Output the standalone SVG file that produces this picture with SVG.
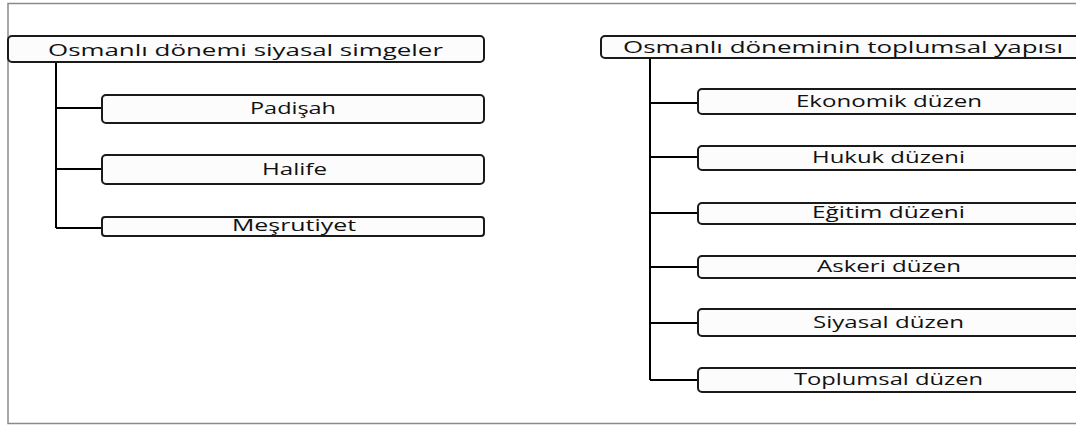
<svg xmlns="http://www.w3.org/2000/svg" width="1076" height="425" viewBox="0 0 1076 425">
<style>
.frame{fill:#ffffff;stroke:#8a8a8a;stroke-width:1.5}
.box{fill:#fcfcfc;stroke:#1a1a1a;stroke-width:2}
.conn{fill:none;stroke:#000000;stroke-width:2}
.t{font-family:"Open Sans","Noto Sans","Liberation Sans",sans-serif;font-size:16px;fill:#111111;text-anchor:start}
</style>
<rect class="frame" x="8" y="3.5" width="1080" height="420"/>
<g id="connectors">
<path class="conn" d="M56 62 V228 M56 108 H102 M56 169 H102 M56 228 H102"/>
<path class="conn" d="M650 58 V380 M650 103 H698 M650 157 H698 M650 213 H698 M650 267 H698 M650 323 H698 M650 380 H698"/>
</g>
<g id="root-left">
<rect class="box" x="8" y="36" width="476" height="26" rx="4"/>
<text class="t" x="48" y="56" textLength="395" lengthAdjust="spacingAndGlyphs">Osmanlı dönemi siyasal simgeler</text>
</g>
<g id="padisah">
<rect class="box" x="102" y="95" width="382" height="28" rx="4"/>
<text class="t" x="250" y="114" textLength="86" lengthAdjust="spacingAndGlyphs">Padişah</text>
</g>
<g id="halife">
<rect class="box" x="102" y="155" width="382" height="29" rx="4"/>
<text class="t" x="262" y="175" textLength="65" lengthAdjust="spacingAndGlyphs">Halife</text>
</g>
<g id="mesrutiyet">
<rect class="box" x="102" y="217" width="382" height="19" rx="3"/>
<text class="t" x="232" y="231" textLength="124" lengthAdjust="spacingAndGlyphs">Meşrutiyet</text>
</g>
<g id="root-right">
<rect class="box" x="601" y="36" width="490" height="22" rx="4"/>
<text class="t" x="623" y="53" textLength="440" lengthAdjust="spacingAndGlyphs">Osmanlı döneminin toplumsal yapısı</text>
</g>
<g id="ekonomik">
<rect class="box" x="698" y="89" width="390" height="25" rx="4"/>
<text class="t" x="796" y="107" textLength="186" lengthAdjust="spacingAndGlyphs">Ekonomik düzen</text>
</g>
<g id="hukuk">
<rect class="box" x="698" y="146" width="390" height="24" rx="4"/>
<text class="t" x="812" y="163" textLength="153" lengthAdjust="spacingAndGlyphs">Hukuk düzeni</text>
</g>
<g id="egitim">
<rect class="box" x="698" y="203" width="390" height="21" rx="4"/>
<text class="t" x="812" y="218" textLength="153" lengthAdjust="spacingAndGlyphs">Eğitim düzeni</text>
</g>
<g id="askeri">
<rect class="box" x="698" y="256" width="390" height="22" rx="4"/>
<text class="t" x="817" y="272" textLength="144" lengthAdjust="spacingAndGlyphs">Askeri düzen</text>
</g>
<g id="siyasal">
<rect class="box" x="698" y="309" width="390" height="27" rx="4"/>
<text class="t" x="813" y="328" textLength="151" lengthAdjust="spacingAndGlyphs">Siyasal düzen</text>
</g>
<g id="toplumsal">
<rect class="box" x="698" y="368" width="390" height="24" rx="4"/>
<text class="t" x="794" y="385" textLength="189" lengthAdjust="spacingAndGlyphs">Toplumsal düzen</text>
</g>
</svg>
